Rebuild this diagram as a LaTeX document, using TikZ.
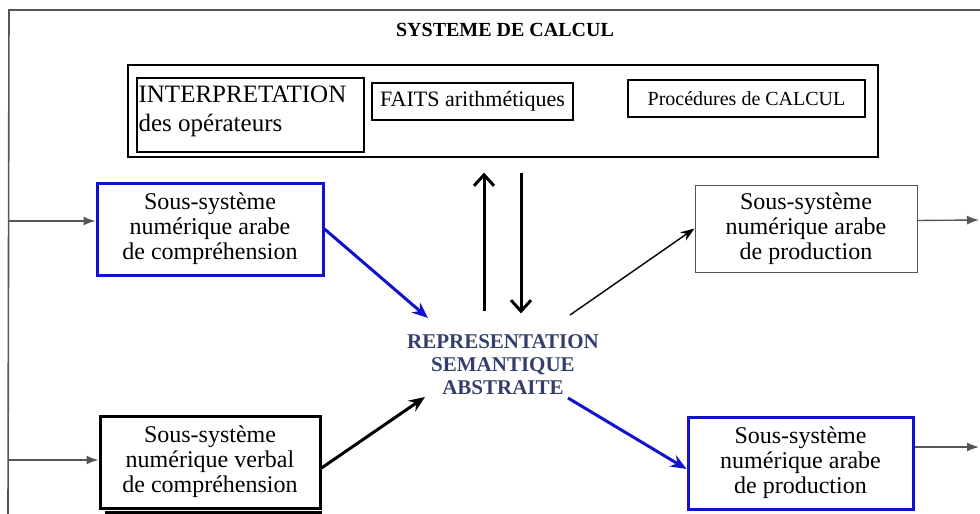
\documentclass[tikz,border=0pt]{standalone}
\usepackage{fontspec}
\setmainfont{Liberation Serif}
\usetikzlibrary{arrows.meta}
\definecolor{boxblue}{RGB}{18,18,205}
\definecolor{semblue}{RGB}{52,62,108}
\definecolor{framegray}{RGB}{85,85,85}
\tikzset{
  sbox/.style={draw, align=center, inner sep=0pt, font=\fontsize{24}{25}\selectfont},
  bluebox/.style={sbox, draw=boxblue, line width=3pt},
  calcbox/.style={draw, line width=1.2pt, inner sep=0pt},
  thinarrow/.style={-{Latex[length=12pt,width=9pt]}, line width=1.4pt, draw=framegray},
}
\begin{document}
\begin{tikzpicture}[x=1pt, y=-1pt]
        \useasboundingbox (0,0) rectangle (980,514);
        % cadre exterieur
        \draw[framegray, line width=1.6pt] (8,514) -- (9,10) -- (980,10);
        \node[font=\bfseries\fontsize{20}{24}\selectfont] (titre) at (505,30) {SYSTEME DE CALCUL};
        % systeme de calcul
        \node[calcbox, minimum width=750pt, minimum height=92pt] (calc) at (503,111) {};
        \node[calcbox, minimum width=227pt, minimum height=74pt] (interp) at (250.5,115) {};
        \node[anchor=north west, align=left, inner sep=2pt, font=\fontsize{25}{29}\selectfont]
            (interptxt) at ([yshift=-6pt]interp.north west) {INTERPRETATION\\des opérateurs};
        \node[calcbox, minimum width=201pt, minimum height=37pt, font=\fontsize{22}{24}\selectfont]
            (faits) at (472.5,101.5) {FAITS arithmétiques};
        \node[calcbox, minimum width=237pt, minimum height=37pt, font=\fontsize{20}{24}\selectfont]
            (proc) at (746.5,98.5) {Procédures de CALCUL};
        % sous-systemes
        \node[bluebox, minimum width=226pt, minimum height=92pt] (arabcomp) at (210,229)
            {Sous-système\\numérique arabe\\de compréhension};
        \node[sbox, line width=3pt, minimum width=220pt, minimum height=92pt] (verbcomp) at (210,462)
            {Sous-système\\numérique verbal\\de compréhension};
        \draw[line width=3pt] ([xshift=6pt,yshift=-3pt]verbcomp.south west) -- ([yshift=-3pt]verbcomp.south east);
        \node[sbox, draw=framegray, line width=1pt, minimum width=222pt, minimum height=87pt] (arabprod) at (806,228.5)
            {Sous-système\\numérique arabe\\de production};
        \node[bluebox, minimum width=225pt, minimum height=92pt] (arabprodb) at (800.5,463)
            {Sous-système\\numérique arabe\\de production};
        % representation
        \node[align=center, text=semblue, font=\bfseries\fontsize{21}{23}\selectfont] (rsa) at (503,365)
            {REPRESENTATION\\SEMANTIQUE\\ABSTRAITE};
        % points libres
        \coordinate (g1) at (9,221);
        \coordinate (g2) at (8,460);
        \coordinate (d1) at (979,220);
        \coordinate (d2) at (979,447);
        \coordinate (in1) at (428,318);
        \coordinate (in2) at (425,397);
        \coordinate (out1) at (570,315);
        \coordinate (out2) at (568,398);
        % fleches
        \draw[thinarrow] (g1) -- ([yshift=8pt]arabcomp.west);
        \draw[thinarrow] (g2) -- ([yshift=2pt]verbcomp.west);
        \draw[thinarrow] ([yshift=8pt]arabprod.east) -- (d1);
        \draw[thinarrow] ([yshift=16pt]arabprodb.east) -- (d2);
        \draw[boxblue, line width=3pt, -{Stealth[length=16pt,width=13pt]}] (arabcomp.east) -- (in1);
        \draw[line width=3pt, -{Stealth[length=16pt,width=13pt]}] ([yshift=-6pt]verbcomp.east) -- (in2);
        \draw[line width=1.4pt, -{Stealth[length=14pt,width=10pt]}] (out1) -- (arabprod.west);
        \draw[boxblue, line width=3pt, -{Stealth[length=16pt,width=13pt]}] (out2) -- ([yshift=-6pt]arabprodb.west);
        \draw[line width=3pt, -{Straight Barb[length=11pt,width=20pt]}] ([xshift=-19pt,yshift=20pt]rsa.north) -- ([xshift=-19pt,yshift=-15pt]calc.south);
        \draw[line width=3pt, -{Straight Barb[length=11pt,width=20pt]}] ([xshift=18pt,yshift=-15pt]calc.south) -- ([xshift=18pt,yshift=18pt]rsa.north);
    \end{tikzpicture}
\end{document}
